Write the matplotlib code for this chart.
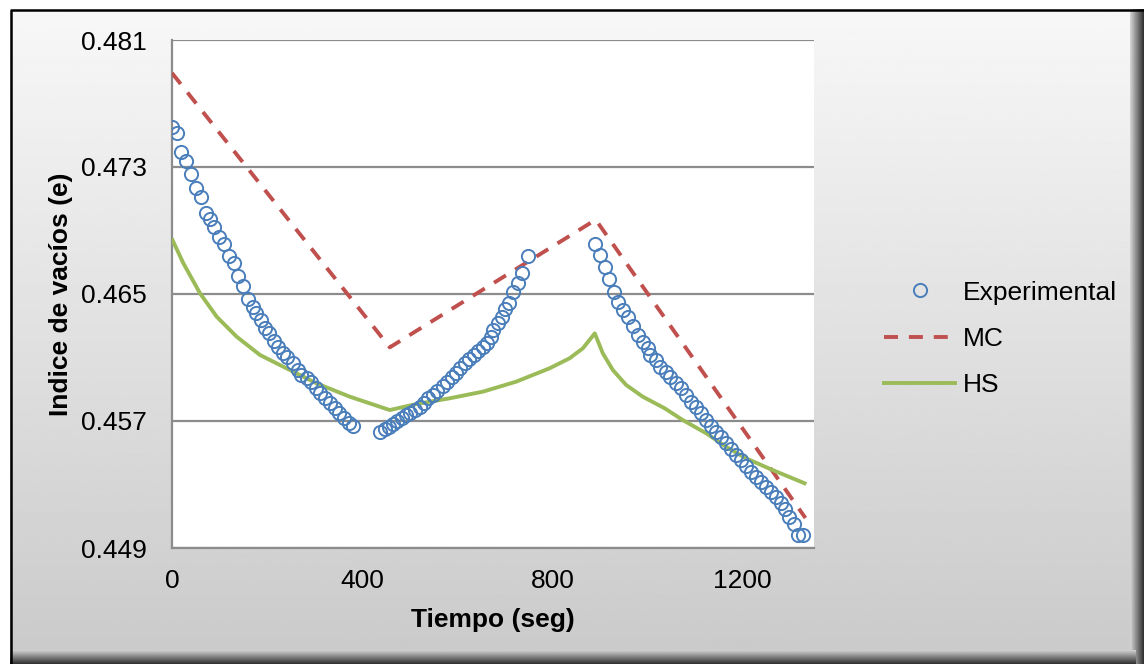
import numpy as np
import matplotlib.pyplot as plt
from matplotlib.patches import Rectangle

plt.rcParams['font.family'] = ['Liberation Sans', 'DejaVu Sans']

# experimental points (time in s, void ratio)
t_exp = [0, 10, 19, 29, 39, 50, 60, 71, 80, 89, 99, 109, 120, 130, 139, 150, 160, 170, 176, 187,
         195, 204, 214, 223, 233, 242, 254, 264, 272, 283, 293, 302, 312, 321, 332, 342, 351, 361, 372, 381,
         438, 447, 457, 465, 473, 483, 492, 500, 511, 521, 529, 538, 549, 558, 569, 578, 588, 597, 605, 616,
         625, 634, 643, 654, 662, 670, 675, 686, 693, 700, 709, 718, 728, 737, 749,
         889, 899, 910, 919, 929, 938, 948, 959, 969, 980, 990, 1001, 1006, 1017, 1027, 1038, 1048, 1059, 1071, 1081,
         1092, 1102, 1113, 1123, 1134, 1144, 1155, 1165, 1176, 1186, 1197, 1207, 1218, 1228, 1239, 1249, 1260, 1270,
         1281, 1290, 1298, 1307, 1316, 1327]
e_exp = [0.47550, 0.47516, 0.47396, 0.47340, 0.47256, 0.47170, 0.47109, 0.47008, 0.46971, 0.46924,
         0.46861, 0.46815, 0.46739, 0.46693, 0.46613, 0.46550, 0.46467, 0.46420, 0.46382, 0.46336,
         0.46288, 0.46252, 0.46204, 0.46168, 0.46130, 0.46101, 0.46067, 0.46021, 0.45990, 0.45969,
         0.45948, 0.45906, 0.45875, 0.45843, 0.45811, 0.45780, 0.45749, 0.45717, 0.45686, 0.45668,
         0.45633, 0.45648, 0.45664, 0.45681, 0.45700, 0.45717, 0.45738, 0.45752, 0.45769, 0.45790,
         0.45812, 0.45843, 0.45864, 0.45891, 0.45920, 0.45948, 0.45979, 0.46004, 0.46032, 0.46063,
         0.46089, 0.46116, 0.46141, 0.46168, 0.46193, 0.46227, 0.46273, 0.46319, 0.46357, 0.46404,
         0.46441, 0.46515, 0.46567, 0.46630, 0.46739,
         0.46815, 0.46746, 0.46672, 0.46592, 0.46515, 0.46452, 0.46399, 0.46353, 0.46298, 0.46242,
         0.46200, 0.46158, 0.46116, 0.46084, 0.46042, 0.46011, 0.45979, 0.45938, 0.45906, 0.45864,
         0.45822, 0.45786, 0.45749, 0.45706, 0.45668, 0.45633, 0.45597, 0.45563, 0.45522, 0.45486,
         0.45454, 0.45416, 0.45381, 0.45349, 0.45318, 0.45286, 0.45255, 0.45223, 0.45182, 0.45144,
         0.45097, 0.45051, 0.44982, 0.44982]

t_mc = [0, 458, 891, 1332]
e_mc = [0.47892, 0.46164, 0.46968, 0.45089]

t_hs = [1, 24, 59, 94, 136, 185, 234, 304, 374, 458, 514, 584, 654, 724, 794, 836, 864, 889,
        906, 927, 955, 990, 1036, 1074, 1123, 1165, 1207, 1263, 1330]
e_hs = [0.46840, 0.46693, 0.46504, 0.46357, 0.46231, 0.46116, 0.46042, 0.45937, 0.45853, 0.45769,
        0.45807, 0.45843, 0.45885, 0.45948, 0.46032, 0.46095, 0.46158, 0.46252,
        0.46126, 0.46021, 0.45927, 0.45853, 0.45780, 0.45706, 0.45623, 0.45538, 0.45465, 0.45391, 0.45308]

x_ticks = [0, 400, 800, 1200]
y_ticks = [0.449, 0.457, 0.465, 0.473, 0.481]

W, H = 1144, 664
fig = plt.figure(figsize=(W / 100, H / 100), dpi=100)

# chart area background: grey gradient, black frame, bevelled right/bottom edges
bg = fig.add_axes([0, 0, 1, 1], zorder=0)
bg.set_axis_off()
grad = np.linspace(0.97, 0.79, 256).reshape(-1, 1)
bg.imshow(grad, cmap='gray', vmin=0, vmax=1, extent=(10, W, H, 9), aspect='auto', zorder=1)
right_edge = np.linspace(0.82, 0.2, 14).reshape(1, -1)
bg.imshow(right_edge, cmap='gray', vmin=0, vmax=1, extent=(W - 14, W, H, 9), aspect='auto', zorder=2)
bottom_edge = np.linspace(0.80, 0.2, 14).reshape(-1, 1)
bg.imshow(bottom_edge, cmap='gray', vmin=0, vmax=1, extent=(10, W - 8, H, H - 14), aspect='auto', zorder=2)
bg.plot([11, 11, W], [H, 10, 10], color='black', lw=1.8, zorder=3, solid_capstyle='butt')
bg.set_xlim(0, W)
bg.set_ylim(H, 0)

ax = fig.add_axes([172 / W, 1 - 548 / H, 642 / W, 508 / H], zorder=1)
ax.set_facecolor('white')

ax.plot(t_exp, e_exp, linestyle='none', marker='o', markersize=9.5, markerfacecolor='none',
        markeredgecolor='#4a7ebb', markeredgewidth=1.4, label='Experimental', zorder=4)
ax.plot(t_mc, e_mc, color='#c0504d', lw=2.8, dashes=(3.6, 2.8), label='MC', zorder=3)
ax.plot(t_hs, e_hs, color='#9bbb59', lw=2.8, label='HS', zorder=3)

ax.set_xlim(0, 1350)
ax.set_ylim(0.449, 0.481)
ax.set_xticks(x_ticks)
ax.set_yticks(y_ticks)
ax.set_yticklabels(['%.3f' % v for v in y_ticks])
ax.tick_params(length=0, labelsize=19, colors='black')
ax.tick_params(axis='y', pad=18)
ax.tick_params(axis='x', pad=15)
ax.grid(axis='y', color='#8c8c8c', lw=1.6)
ax.set_axisbelow(True)
for s in ['top', 'right']:
    ax.spines[s].set_visible(False)
for s in ['left', 'bottom']:
    ax.spines[s].set_color('#8c8c8c')
    ax.spines[s].set_linewidth(1.6)

ax.set_xlabel('Tiempo (seg)', fontsize=19, fontweight='bold', labelpad=11)
ax.set_ylabel('Indice de vacíos (e)', fontsize=19, fontweight='bold', labelpad=6)

fig.legend(loc='center left', bbox_to_anchor=(884 / W, 1 - 339 / H), frameon=False, fontsize=19,
           handlelength=2.7, handletextpad=0.3, labelspacing=0.85, borderpad=0, borderaxespad=0)

fig.savefig('out.png', dpi=100)
